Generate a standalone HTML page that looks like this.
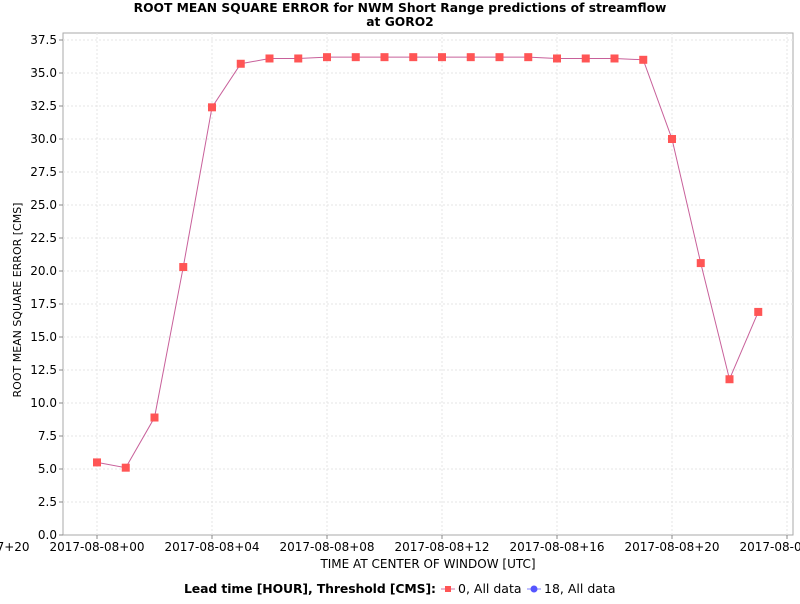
<!DOCTYPE html>
<html><head><meta charset="utf-8"><style>
body{margin:0;background:#fff;font-family:"DejaVu Sans","Liberation Sans",sans-serif;}
svg text{font-family:"DejaVu Sans","Liberation Sans",sans-serif;}
</style></head><body>
<svg id="chart" width="800" height="600" xmlns="http://www.w3.org/2000/svg">
<text x="400" y="12" text-anchor="middle" font-size="12.3" font-weight="bold">ROOT MEAN SQUARE ERROR for NWM Short Range predictions of streamflow</text>
<text x="400" y="26" text-anchor="middle" font-size="12.3" font-weight="bold">at GORO2</text>
<rect x="63" y="33" width="730" height="502" fill="#fff" stroke="#aaa"/>
<g id="grid"></g><g id="axes"></g><g id="series"></g>
<text x="428" y="568" text-anchor="middle" font-size="12">TIME AT CENTER OF WINDOW [UTC]</text>
<text transform="translate(21,300) rotate(-90)" text-anchor="middle" font-size="11">ROOT MEAN SQUARE ERROR [CMS]</text>
<g>
<text x="184" y="593" font-size="12.4" font-weight="bold" textLength="252">Lead time [HOUR], Threshold [CMS]:</text>
<line x1="441" y1="589" x2="455" y2="589" stroke="#d070a0"/>
<rect x="445" y="586" width="6" height="6" fill="#ff5555"/>
<text x="458" y="593" font-size="12.5">0, All data</text>
<line x1="527" y1="589" x2="541" y2="589" stroke="#8080ff"/>
<circle cx="534" cy="589" r="3.5" fill="#5555ff"/>
<text x="544" y="593" font-size="12.5">18, All data</text>
</g>
</svg>
<script>
const hours=[0,1,2,3,4,5,6,7,8,9,10,11,12,13,14,15,16,17,18,19,20,21,22,23];
const rmse=[5.5,5.1,8.9,20.3,32.4,35.7,36.1,36.1,36.2,36.2,36.2,36.2,36.2,36.2,36.2,36.2,36.1,36.1,36.1,36.0,30.0,20.6,11.8,16.9];
const yTicks=[0,2.5,5,7.5,10,12.5,15,17.5,20,22.5,25,27.5,30,32.5,35,37.5];
const xTickHours=[-4,0,4,8,12,16,20,24];
const xTickLabels=["2017-08-07+20","2017-08-08+00","2017-08-08+04","2017-08-08+08","2017-08-08+12","2017-08-08+16","2017-08-08+20","2017-08-09+00"];
const NS="http://www.w3.org/2000/svg";
const X=h=>97+h*28.75, Y=v=>535-v*13.2;
function mk(t,a,p){const e=document.createElementNS(NS,t);for(const k in a)e.setAttribute(k,a[k]);p.appendChild(e);return e;}
const g=document.getElementById('grid'),ax=document.getElementById('axes'),s=document.getElementById('series');
yTicks.forEach(v=>{
 if(v>0){const l=mk('line',{x1:63,x2:793,y1:Y(v),y2:Y(v),stroke:'#e4e4e4','stroke-dasharray':'2,2'},g);
 }
 mk('line',{x1:59,x2:63,y1:Y(v),y2:Y(v),stroke:'#888'},ax);
 const t=mk('text',{x:57,y:Y(v)+4,'text-anchor':'end','font-size':12},ax);t.textContent=v.toFixed(1);
 
});
xTickHours.forEach((h,i)=>{
 const x=X(h);
 if(x>63&&x<793){const l=mk('line',{x1:x,x2:x,y1:33,y2:535,stroke:'#e4e4e4','stroke-dasharray':'2,2'},g);
 
 mk('line',{x1:x,x2:x,y1:535,y2:539,stroke:'#888'},ax);}
 const t=mk('text',{x:x,y:551,'text-anchor':'middle','font-size':12},ax);t.textContent=xTickLabels[i];
 
});
const ln=mk('polyline',{points:hours.map((h,i)=>X(h)+','+Y(rmse[i])).join(' '),fill:'none',stroke:'#c8609a','stroke-width':1},s);

hours.forEach((h,i)=>{
 const r=mk('rect',{x:X(h)-4,y:Y(rmse[i])-4,width:8,height:8,fill:'#ff5555'},s);
 
});
</script>
</body></html>
